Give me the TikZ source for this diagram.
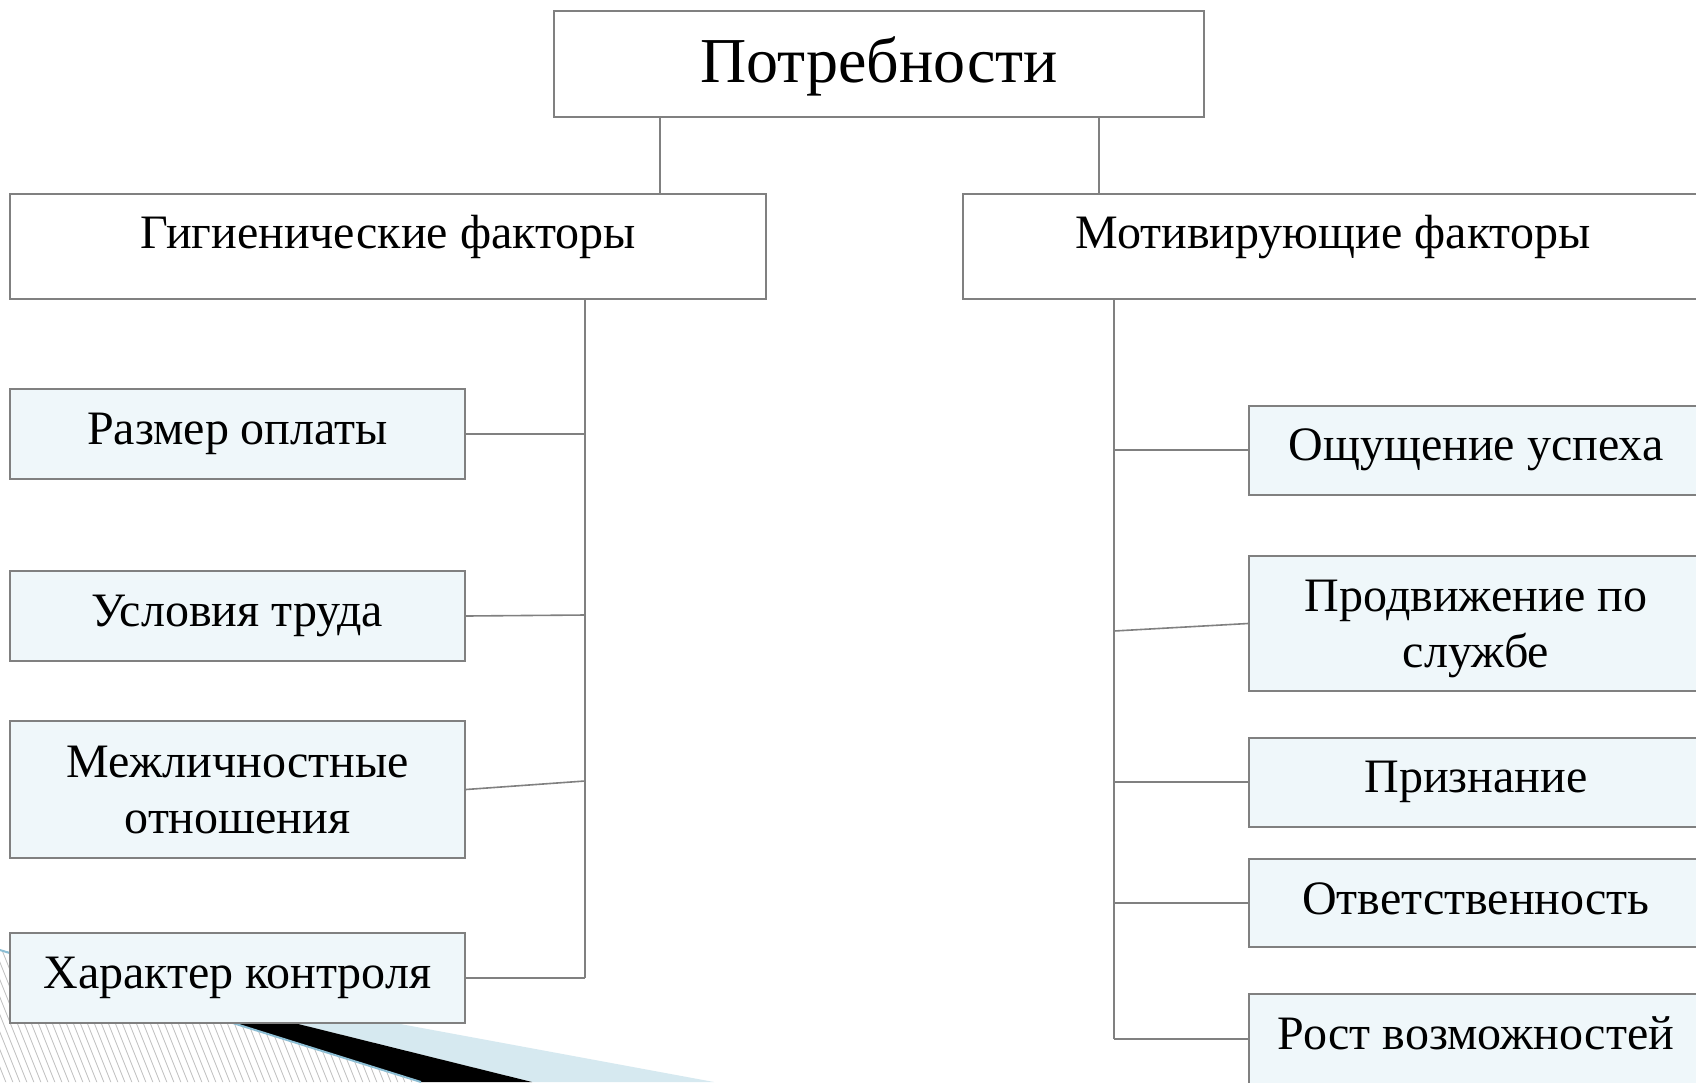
\documentclass[tikz,border=0pt]{standalone}
\usepackage{fontspec}
\setmainfont{Liberation Serif}
\usetikzlibrary{calc}
\definecolor{boxline}{RGB}{128,128,128}
\definecolor{connline}{RGB}{128,128,128}
\definecolor{boxfill}{RGB}{239,247,250}
\definecolor{wedgeblue}{RGB}{214,233,240}
\definecolor{edgeblue}{RGB}{140,190,212}
\definecolor{hatchgray}{RGB}{190,190,190}
\tikzset{
  hbox/.style={draw=boxline, line width=2pt, fill=white, rectangle, inner sep=0pt},
  leafbox/.style={draw=boxline, line width=2pt, fill=boxfill, rectangle, inner sep=0pt},
  txt/.style={anchor=base, inner sep=0pt, font=\fontsize{48}{56}\selectfont},
  bigtxt/.style={anchor=base, inner sep=0pt, font=\fontsize{64}{74}\selectfont},
  conn/.style={draw=connline, line width=1.6pt},
  hatchline/.style={draw=hatchgray, line width=0.8pt},
}
\begin{document}
\begin{tikzpicture}[x=1pt,y=-1pt]
\useasboundingbox (0,0) rectangle (1696,1082);
\clip (0,0) rectangle (1696,1082);
\fill[white] (0,0) rectangle (1696,1082);

% decoration bottom-left
\fill[wedgeblue] (0,950) -- (714,1082) -- (532,1082) -- cycle;
\fill[black] (0,950) -- (532,1082) -- (421,1082) -- cycle;
\begin{scope}
  \clip (0,950) -- (421,1082) -- (0,1082) -- cycle;
  \foreach \x in {-90,-83,...,440} \draw[hatchline] (\x,930) -- (\x+64,1090);
\end{scope}
\draw[draw=edgeblue, line width=2pt] (0,950) -- (421,1082);

% top
\node[hbox, minimum width=650, minimum height=106] (top) at (879,64) {};
\node[bigtxt] (toptxt) at ($(top.north)+(0,72)$) {Потребности};

% headings
\node[hbox, minimum width=756, minimum height=105] (hyg) at (388,246.5) {};
\node[txt] (hygtxt) at ($(hyg.north)+(0,55)$) {Гигиенические факторы};
\node[hbox, minimum width=740, minimum height=105] (mot) at (1333,246.5) {};
\node[txt] (mottxt) at ($(mot.north)+(0,55)$) {Мотивирующие факторы};

\draw[conn] (top.south -| 660,0) -- (hyg.north -| 660,0);
\draw[conn] (top.south -| 1099,0) -- (mot.north -| 1099,0);

% left leaves
\node[leafbox, minimum width=455, minimum height=90] (a1) at (237.5,434) {};
\node[txt] at ($(a1.north)+(0,56)$) {Размер оплаты};
\node[leafbox, minimum width=455, minimum height=90] (a2) at (237.5,616) {};
\node[txt] at ($(a2.north)+(0,56)$) {Условия труда};
\node[leafbox, minimum width=455, minimum height=137] (a3) at (237.5,789.5) {};
\node[txt] at ($(a3.north)+(0,57)$) {Межличностные};
\node[txt] at ($(a3.north)+(0,113)$) {отношения};
\node[leafbox, minimum width=455, minimum height=90] (a4) at (237.5,978) {};
\node[txt] at ($(a4.north)+(0,56)$) {Характер контроля};

\coordinate (ls0) at (585,299);
\coordinate (ls1) at (585,434);
\coordinate (ls2) at (585,615);
\coordinate (ls3) at (585,781);
\coordinate (ls4) at (585,978);
\draw[conn] (ls0) -- (ls4);
\draw[conn] (a1.east) -- (ls1);
\draw[conn] (a2.east) -- (ls2);
\draw[conn] (a3.east) -- (ls3);
\draw[conn] (a4.east) -- (ls4);

% right leaves
\node[leafbox, minimum width=454, minimum height=89] (b1) at (1476,450) {};
\node[txt] at ($(b1.north)+(0,56)$) {Ощущение успеха};
\node[leafbox, minimum width=454, minimum height=135] (b2) at (1476,623.5) {};
\node[txt] at ($(b2.north)+(0,56)$) {Продвижение по};
\node[txt] at ($(b2.north)+(0,112)$) {службе};
\node[leafbox, minimum width=454, minimum height=89] (b3) at (1476,782) {};
\node[txt] at ($(b3.north)+(0,56)$) {Признание};
\node[leafbox, minimum width=454, minimum height=88] (b4) at (1476,903) {};
\node[txt] at ($(b4.north)+(0,56)$) {Ответственность};
\node[leafbox, minimum width=454, minimum height=90] (b5) at (1476,1039) {};
\node[txt] at ($(b5.north)+(0,56)$) {Рост возможностей};

\coordinate (rs0) at (1114,299);
\coordinate (rs1) at (1114,450);
\coordinate (rs2) at (1114,631);
\coordinate (rs3) at (1114,782);
\coordinate (rs4) at (1114,903);
\coordinate (rs5) at (1114,1039);
\draw[conn] (rs0) -- (rs5);
\draw[conn] (rs1) -- (b1.west);
\draw[conn] (rs2) -- (b2.west);
\draw[conn] (rs3) -- (b3.west);
\draw[conn] (rs4) -- (b4.west);
\draw[conn] (rs5) -- (b5.west);
\end{tikzpicture}
\end{document}
